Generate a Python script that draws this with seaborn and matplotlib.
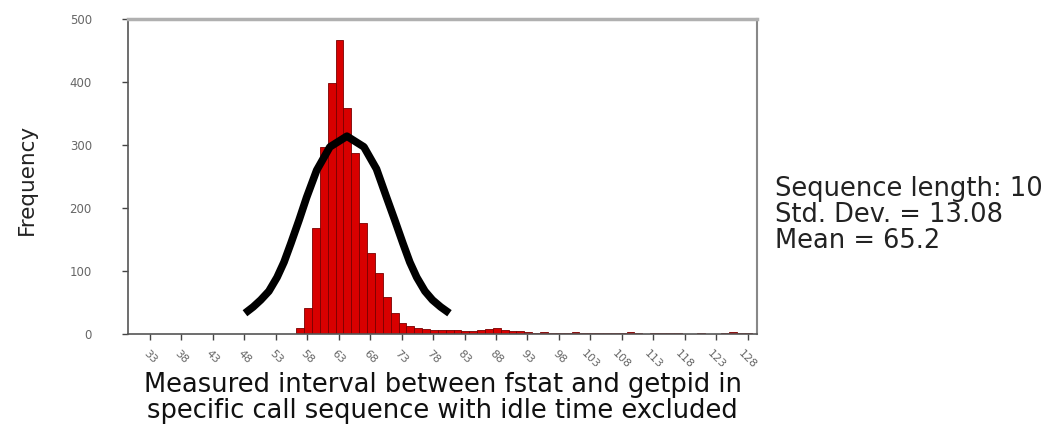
import numpy as np
import pandas as pd
import matplotlib
matplotlib.use('Agg')
import matplotlib.pyplot as plt
import seaborn as sns

# histogram bin counts (bin width 1.25, first bin starts at 56.25)
bin_start = 56.25
bin_width = 1.25
counts = [10, 41, 168, 297, 398, 467, 359, 287, 176, 129, 97, 59, 33, 17,
          12, 9, 8, 7, 7, 6, 6, 5, 5, 6, 8, 10, 7, 5, 4, 3,
          2, 3, 2, 1, 2, 3, 2, 1, 1, 2, 1, 2, 3, 1, 0, 1, 2, 2, 1, 0,
          0, 1, 0, 0, 1, 3, 1, 2]

# hand drawn bell curve overlay
curve_x = [48.1, 49.4, 50.6, 51.9, 53.2, 54.3, 55.4, 56.7, 57.9, 59.5, 61.6, 64.3,
           67.0, 69.0, 70.6, 71.9, 73.2, 74.3, 75.4, 76.7, 77.9, 79.2, 80.6]
curve_y = [33, 43, 54, 68, 90, 114, 144, 181, 217, 260, 297, 314,
           297, 262, 217, 181, 144, 114, 90, 68, 54, 43, 33]

xtick_values = [33, 38, 43, 48, 53, 58, 63, 68, 73, 78, 83, 88, 93, 98, 103, 108, 113, 118, 123, 128]
ytick_values = [0, 100, 200, 300, 400, 500]

stats_text = 'Sequence length: 10\nStd. Dev. = 13.08\nMean = 65.2'

centers = bin_start + bin_width * (np.arange(len(counts)) + 0.5)
df = pd.DataFrame({'interval': centers, 'count': counts})

sns.set_style('white')
plt.rcParams['font.family'] = ['DejaVu Sans']

fig = plt.figure(figsize=(10.61, 4.29), dpi=100)
ax = fig.add_axes([0.1206, 0.2214, 0.593, 0.7343])

sns.histplot(data=df, x='interval', weights='count', binwidth=bin_width,
             binrange=(bin_start, bin_start + bin_width * len(counts)),
             color='#d80000', edgecolor='#7a0000', linewidth=0.6, alpha=1, ax=ax)
sns.lineplot(x=curve_x, y=curve_y, sort=False, color='black', linewidth=5.5,
             solid_joinstyle='round', solid_capstyle='butt', ax=ax)

ax.set_xlim(29.5, 129.5)
ax.set_ylim(0, 500)
ax.set_xticks(xtick_values)
ax.set_xticklabels([str(v) for v in xtick_values], rotation=-45, ha='center',
                   fontsize=8, color='#666666')
ax.set_yticks(ytick_values)
ax.set_yticklabels([str(v) for v in ytick_values], fontsize=8.5, color='#666666')
ax.tick_params(axis='both', direction='out', length=4, width=1, color='#444444',
               bottom=True, left=True)
ax.tick_params(axis='y', pad=22)
ax.tick_params(axis='x', pad=6)

for side in ['left', 'bottom']:
    ax.spines[side].set_color('#555555')
    ax.spines[side].set_linewidth(1.2)
ax.spines['top'].set_color('#b0b0b0')
ax.spines['top'].set_linewidth(2.5)
ax.spines['right'].set_color('#888888')
ax.spines['right'].set_linewidth(1.5)

ax.set_xlabel('Measured interval between fstat and getpid in\nspecific call sequence with idle time excluded',
              fontsize=18.5, color='#111111', linespacing=1.0)
ax.xaxis.set_label_coords(0.5, -0.12, transform=ax.transAxes)
ax.xaxis.label.set_va('top')
ax.set_ylabel('Frequency', fontsize=15.5, color='#222222')
ax.yaxis.set_label_coords(-0.145, 0.49)

fig.text(0.7305, 0.50, stats_text, fontsize=18.5, color='#222222',
         va='center', ha='left', linespacing=1.0)

fig.savefig('out.png', dpi=100, facecolor='white')
